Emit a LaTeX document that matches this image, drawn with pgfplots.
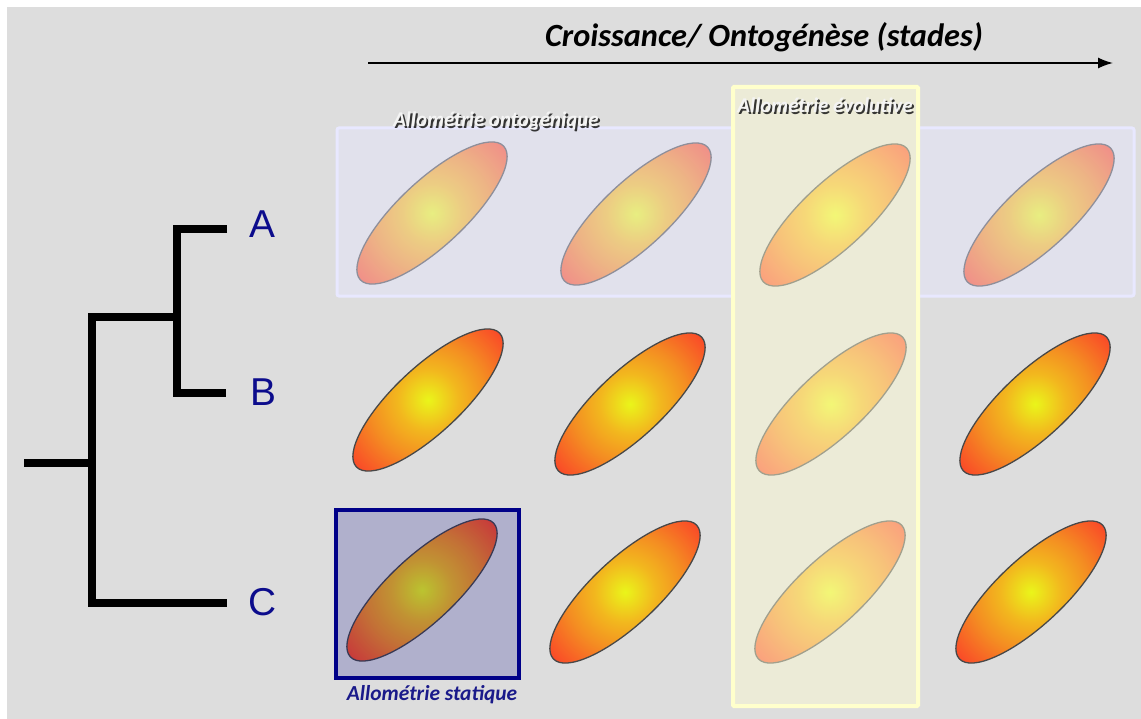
\documentclass[border=0pt]{standalone}
\usepackage{pgfplots}
\pgfplotsset{compat=1.18}
\usetikzlibrary{arrows.meta}
\usepackage{fontspec}
\setmainfont{Carlito}
\newfontfamily\arialf{Liberation Sans}

\definecolor{bggray}{HTML}{DDDDDD}
\definecolor{lavfill}{HTML}{E6E6FF}
\definecolor{lavline}{HTML}{E8E8FF}
\definecolor{yelfill}{HTML}{FBF9D3}
\definecolor{yelline}{HTML}{FFFFCC}
\definecolor{navyline}{HTML}{000088}
\definecolor{navyfill}{HTML}{000088}
\definecolor{labblue}{HTML}{0C0C8C}
\definecolor{statblue}{HTML}{1A1A8A}
\definecolor{ellline}{HTML}{484848}
\definecolor{ec0}{HTML}{EAF51A}
\definecolor{ec1}{HTML}{F2B81E}
\definecolor{ec2}{HTML}{F48C22}
\definecolor{ec3}{HTML}{FA4628}
\definecolor{shadowc}{HTML}{222222}
\definecolor{whitetxt}{HTML}{F4F4F4}

\pgfdeclareradialshading{ellshade}{\pgfpoint{0bp}{0bp}}{%
  color(0bp)=(ec0); color(7.5bp)=(ec1); color(15bp)=(ec2); color(25bp)=(ec3); color(50bp)=(ec3)}

\pgfdeclareplotmark{allo}{%
  \pgfscope
    \pgfpathellipse{\pgfpointorigin}{\pgfpointpolar{43}{98bp}}{\pgfpointpolar{133}{33bp}}%
    \pgfusepath{clip}%
    \pgfpathcircle{\pgfpointorigin}{100bp}%
    \pgfshadepath{ellshade}{0}%
    \pgfusepath{discard}%
  \endpgfscope
  \pgfpathellipse{\pgfpointorigin}{\pgfpointpolar{43}{98bp}}{\pgfpointpolar{133}{33bp}}%
  \pgfusepath{stroke}%
}

\pgfplotstableread{
x y
432 213
636 214
835 215
1039 215
428 400
630 404
831 404
1035 404
422 590
625 592
830 592
1031 592
}\centers

\begin{document}
\begin{tikzpicture}
\begin{axis}[
  width=1141bp, height=719bp, scale only axis,
  xmin=0, xmax=1141, ymin=0, ymax=719, y dir=reverse,
  hide axis, clip=false, clip mode=individual]

% page and background
\addplot[draw=none, fill=white] coordinates {(0,0)(1141,0)(1141,719)(0,719)} --cycle;
\addplot[draw=none, fill=bggray] coordinates {(7,7)(1141,7)(1141,719)(7,719)} --cycle;

% tree
\addplot[black, line width=8bp, line join=miter] coordinates {(227,229)(177,229)(177,393)(226,393)};
\addplot[black, line width=8bp, line join=miter] coordinates {(177,317)(92,317)(92,603)(227,603)};
\addplot[black, line width=8bp] coordinates {(24,463)(92,463)};

% taxon labels
\node[anchor=base, text=labblue, font=\arialf\fontsize{39}{44}\selectfont] at (axis cs:262,237) {A};
\node[anchor=base, text=labblue, font=\arialf\fontsize{39}{44}\selectfont] at (axis cs:263,405) {B};
\node[anchor=base, text=labblue, font=\arialf\fontsize{39}{44}\selectfont] at (axis cs:263,615) {C};

% ellipses (stages x taxa)
\addplot[only marks, mark=allo, mark options={draw=ellline, line width=1.3bp}] table[x=x, y=y] {\centers};

% overlay boxes
\addplot[fill=lavfill, fill opacity=0.45, draw=none]
  coordinates {(337,128)(733,128)(733,296)(337,296)} --cycle;
\addplot[fill=lavfill, fill opacity=0.45, draw=none]
  coordinates {(918,128)(1134,128)(1134,296)(918,296)} --cycle;
\addplot[draw=lavline, line width=3bp, rounded corners=2bp]
  coordinates {(733,128)(337,128)(337,296)(733,296)};
\addplot[draw=lavline, line width=3bp, rounded corners=2bp]
  coordinates {(918,128)(1134,128)(1134,296)(918,296)};
\addplot[fill=navyfill, fill opacity=0.2, draw=navyline, line width=4bp]
  coordinates {(336,510)(519,510)(519,678)(336,678)} --cycle;
\addplot[fill=yelfill, fill opacity=0.5, draw=yelline, line width=4bp, rounded corners=1bp]
  coordinates {(733,87)(918,87)(918,706)(733,706)} --cycle;

% arrow and title
\addplot[black, line width=1.5bp, -{Latex[length=15bp,width=11bp]}] coordinates {(368,63)(1113,63)};
\node[anchor=base, font=\fontsize{32.5}{36}\selectfont\bfseries\itshape] at (axis cs:764,47) {Croissance/ Ontogénèse (stades)};

% box captions
\node[anchor=base, text=shadowc, opacity=0.9, font=\fontsize{21}{24}\selectfont\bfseries\itshape] at (axis cs:498,129) {Allométrie ontogénique};
\node[anchor=base, text=whitetxt, font=\fontsize{21}{24}\selectfont\bfseries\itshape] at (axis cs:496,127) {Allométrie ontogénique};
\node[anchor=base, text=shadowc, opacity=0.9, font=\fontsize{21}{24}\selectfont\bfseries\itshape] at (axis cs:827,115) {Allométrie évolutive};
\node[anchor=base, text=whitetxt, font=\fontsize{21}{24}\selectfont\bfseries\itshape] at (axis cs:825,113) {Allométrie évolutive};
\node[anchor=base, text=statblue, font=\fontsize{21.5}{24}\selectfont\bfseries\itshape] at (axis cs:432,700) {Allométrie statique};

\end{axis}
\end{tikzpicture}
\end{document}
